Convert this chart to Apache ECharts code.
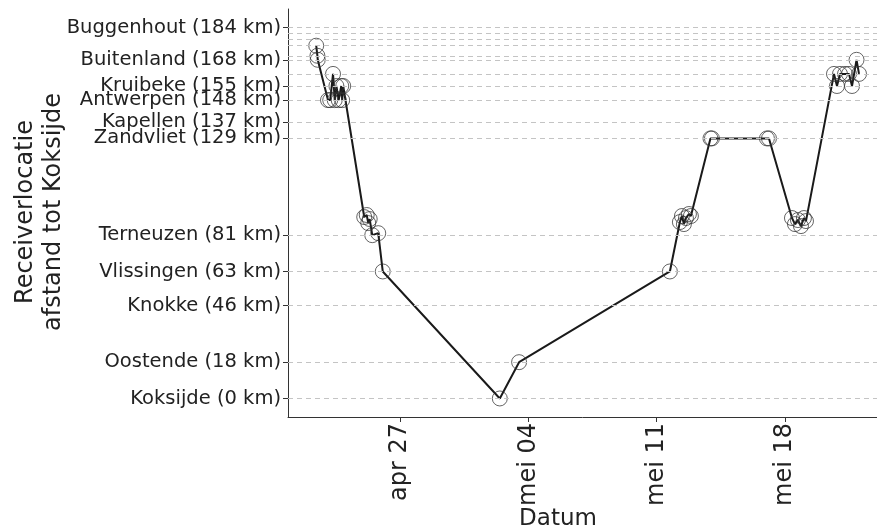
<!DOCTYPE html>
<html><head><meta charset="utf-8">
<script src="https://cdn.jsdelivr.net/npm/echarts@6/dist/echarts.min.js"></script>
<style>html,body{margin:0;padding:0;background:#fff}#c{width:877px;height:532px}</style>
</head><body><div id="c"></div>
<script>
// Stations (y-axis ticks)
const stationKm = [0, 18, 46, 63, 81, 129, 137, 148, 155, 168, 184];
const stationNames = ['Koksijde','Oostende','Knokke','Vlissingen','Terneuzen','Zandvliet','Kapellen','Antwerpen','Kruibeke','Buitenland','Buggenhout'];
// Unlabelled receiver positions (grid lines only)
const extraKm = [161, 170, 175, 178, 181];
// X ticks
const xTickDates = ['2019-04-27 00:00','2019-05-04 00:00','2019-05-11 00:00','2019-05-18 00:00'];
const monthNames = ['jan','feb','mrt','apr','mei','jun','jul','aug','sep','okt','nov','dec'];
const xMin = '2019-04-20 21:30';
const xMax = '2019-05-23 00:17';
// Detections
const times = [
 '2019-04-22 10:25','2019-04-22 12:00','2019-04-22 12:25','2019-04-23 01:50','2019-04-23 04:45',
 '2019-04-23 08:25','2019-04-23 10:40','2019-04-23 12:50','2019-04-23 15:50','2019-04-23 19:10',
 '2019-04-23 20:25','2019-04-23 21:45','2019-04-25 01:15','2019-04-25 04:30','2019-04-25 06:30',
 '2019-04-25 08:25','2019-04-25 11:45','2019-04-25 19:35','2019-04-26 01:30','2019-05-02 10:40',
 '2019-05-03 11:55','2019-05-11 17:15','2019-05-12 06:20','2019-05-12 09:00','2019-05-12 11:35',
 '2019-05-12 14:15','2019-05-12 18:10','2019-05-12 20:45','2019-05-13 22:20','2019-05-14 00:15',
 '2019-05-17 00:15','2019-05-17 02:55','2019-05-18 09:00','2019-05-18 12:55','2019-05-18 16:50',
 '2019-05-18 20:45','2019-05-19 00:40','2019-05-19 03:20','2019-05-20 16:00','2019-05-20 19:55',
 '2019-05-20 23:50','2019-05-21 06:25','2019-05-21 11:40','2019-05-21 15:35','2019-05-21 21:30',
 '2019-05-22 00:45'
];
const km = [
 175,170,168,148,148,
 161,148,155,148,155,
 148,155,90,91,87,
 89,81,82,63,0,
 18,63,87.5,90.5,86.5,
 89.5,91.5,90.5,129,129,
 129,129,89.5,86.5,88.5,
 85.5,89.5,88,161,155,
 161,161,161,155,168,
 161
];

const FONT = 'DejaVu Sans';
const toMs = s => { const [d, t] = s.split(' '); const [Y, M, D] = d.split('-').map(Number); const [h, m] = t.split(':').map(Number); return Date.UTC(Y, M - 1, D, h, m); };
const pad = n => (n < 10 ? '0' : '') + n;
const xTickMs = xTickDates.map(toMs);
const gridKm = stationKm.concat(extraKm);
const chart = echarts.init(document.getElementById('c'), null, {renderer:'canvas'});

chart.setOption({
  animation: false,
  textStyle: {fontFamily: FONT},
  grid: {left: 288, right: 0, top: 9, bottom: 115},
  xAxis: {
    type: 'value', min: toMs(xMin), max: toMs(xMax),
    axisLine: {show: true, onZero: false, lineStyle: {color: '#333', width: 1}},
    axisTick: {show: true, customValues: xTickMs, length: 5, lineStyle: {color: '#333'}},
    axisLabel: {
      customValues: xTickMs, rotate: 90, margin: 6,
      fontSize: 24, color: '#222', fontFamily: FONT,
      formatter: v => { const d = new Date(v); return monthNames[d.getUTCMonth()] + ' ' + pad(d.getUTCDate()); }
    },
    splitLine: {show: false}
  },
  yAxis: {
    type: 'value', min: -9.2, max: 193.2,
    axisLine: {show: true, lineStyle: {color: '#333', width: 1}},
    axisTick: {show: true, customValues: stationKm, length: 5, lineStyle: {color: '#333'}},
    axisLabel: {
      customValues: stationKm, margin: 7, fontSize: 19.5, color: '#222', fontFamily: FONT,
      formatter: v => { const i = stationKm.indexOf(v); return stationNames[i] + ' (' + v + ' km)'; }
    },
    splitLine: {show: false}
  },
  graphic: [
    {type: 'text', x: 40, y: 212, rotation: Math.PI / 2,
     style: {text: 'Receiverlocatie\nafstand tot Koksijde', align: 'center', verticalAlign: 'middle',
       font: '24px "DejaVu Sans"', lineHeight: 28, fill: '#222'}},
    {type: 'text', x: 558, y: 519,
     style: {text: 'Datum', align: 'center', verticalAlign: 'middle', font: '23px "DejaVu Sans"', fill: '#222'}}
  ],
  series: [
    {
      type: 'line', data: [], z: 1, silent: true,
      markLine: {
        silent: true, symbol: ['none', 'none'], label: {show: false},
        lineStyle: {type: [5, 4], color: '#c4c4c4', width: 1},
        emphasis: {disabled: true},
        data: gridKm.map(v => ({yAxis: v}))
      }
    },
    {
      type: 'line', z: 3,
      data: times.map((t, i) => [toMs(t), km[i]]),
      showSymbol: true, symbol: 'circle', symbolSize: 15,
      itemStyle: {color: 'rgba(0,0,0,0)', borderColor: 'rgba(50,50,50,0.75)', borderWidth: 1},
      lineStyle: {color: '#1a1a1a', width: 2},
      emphasis: {disabled: true}
    }
  ]
});
</script></body></html>
